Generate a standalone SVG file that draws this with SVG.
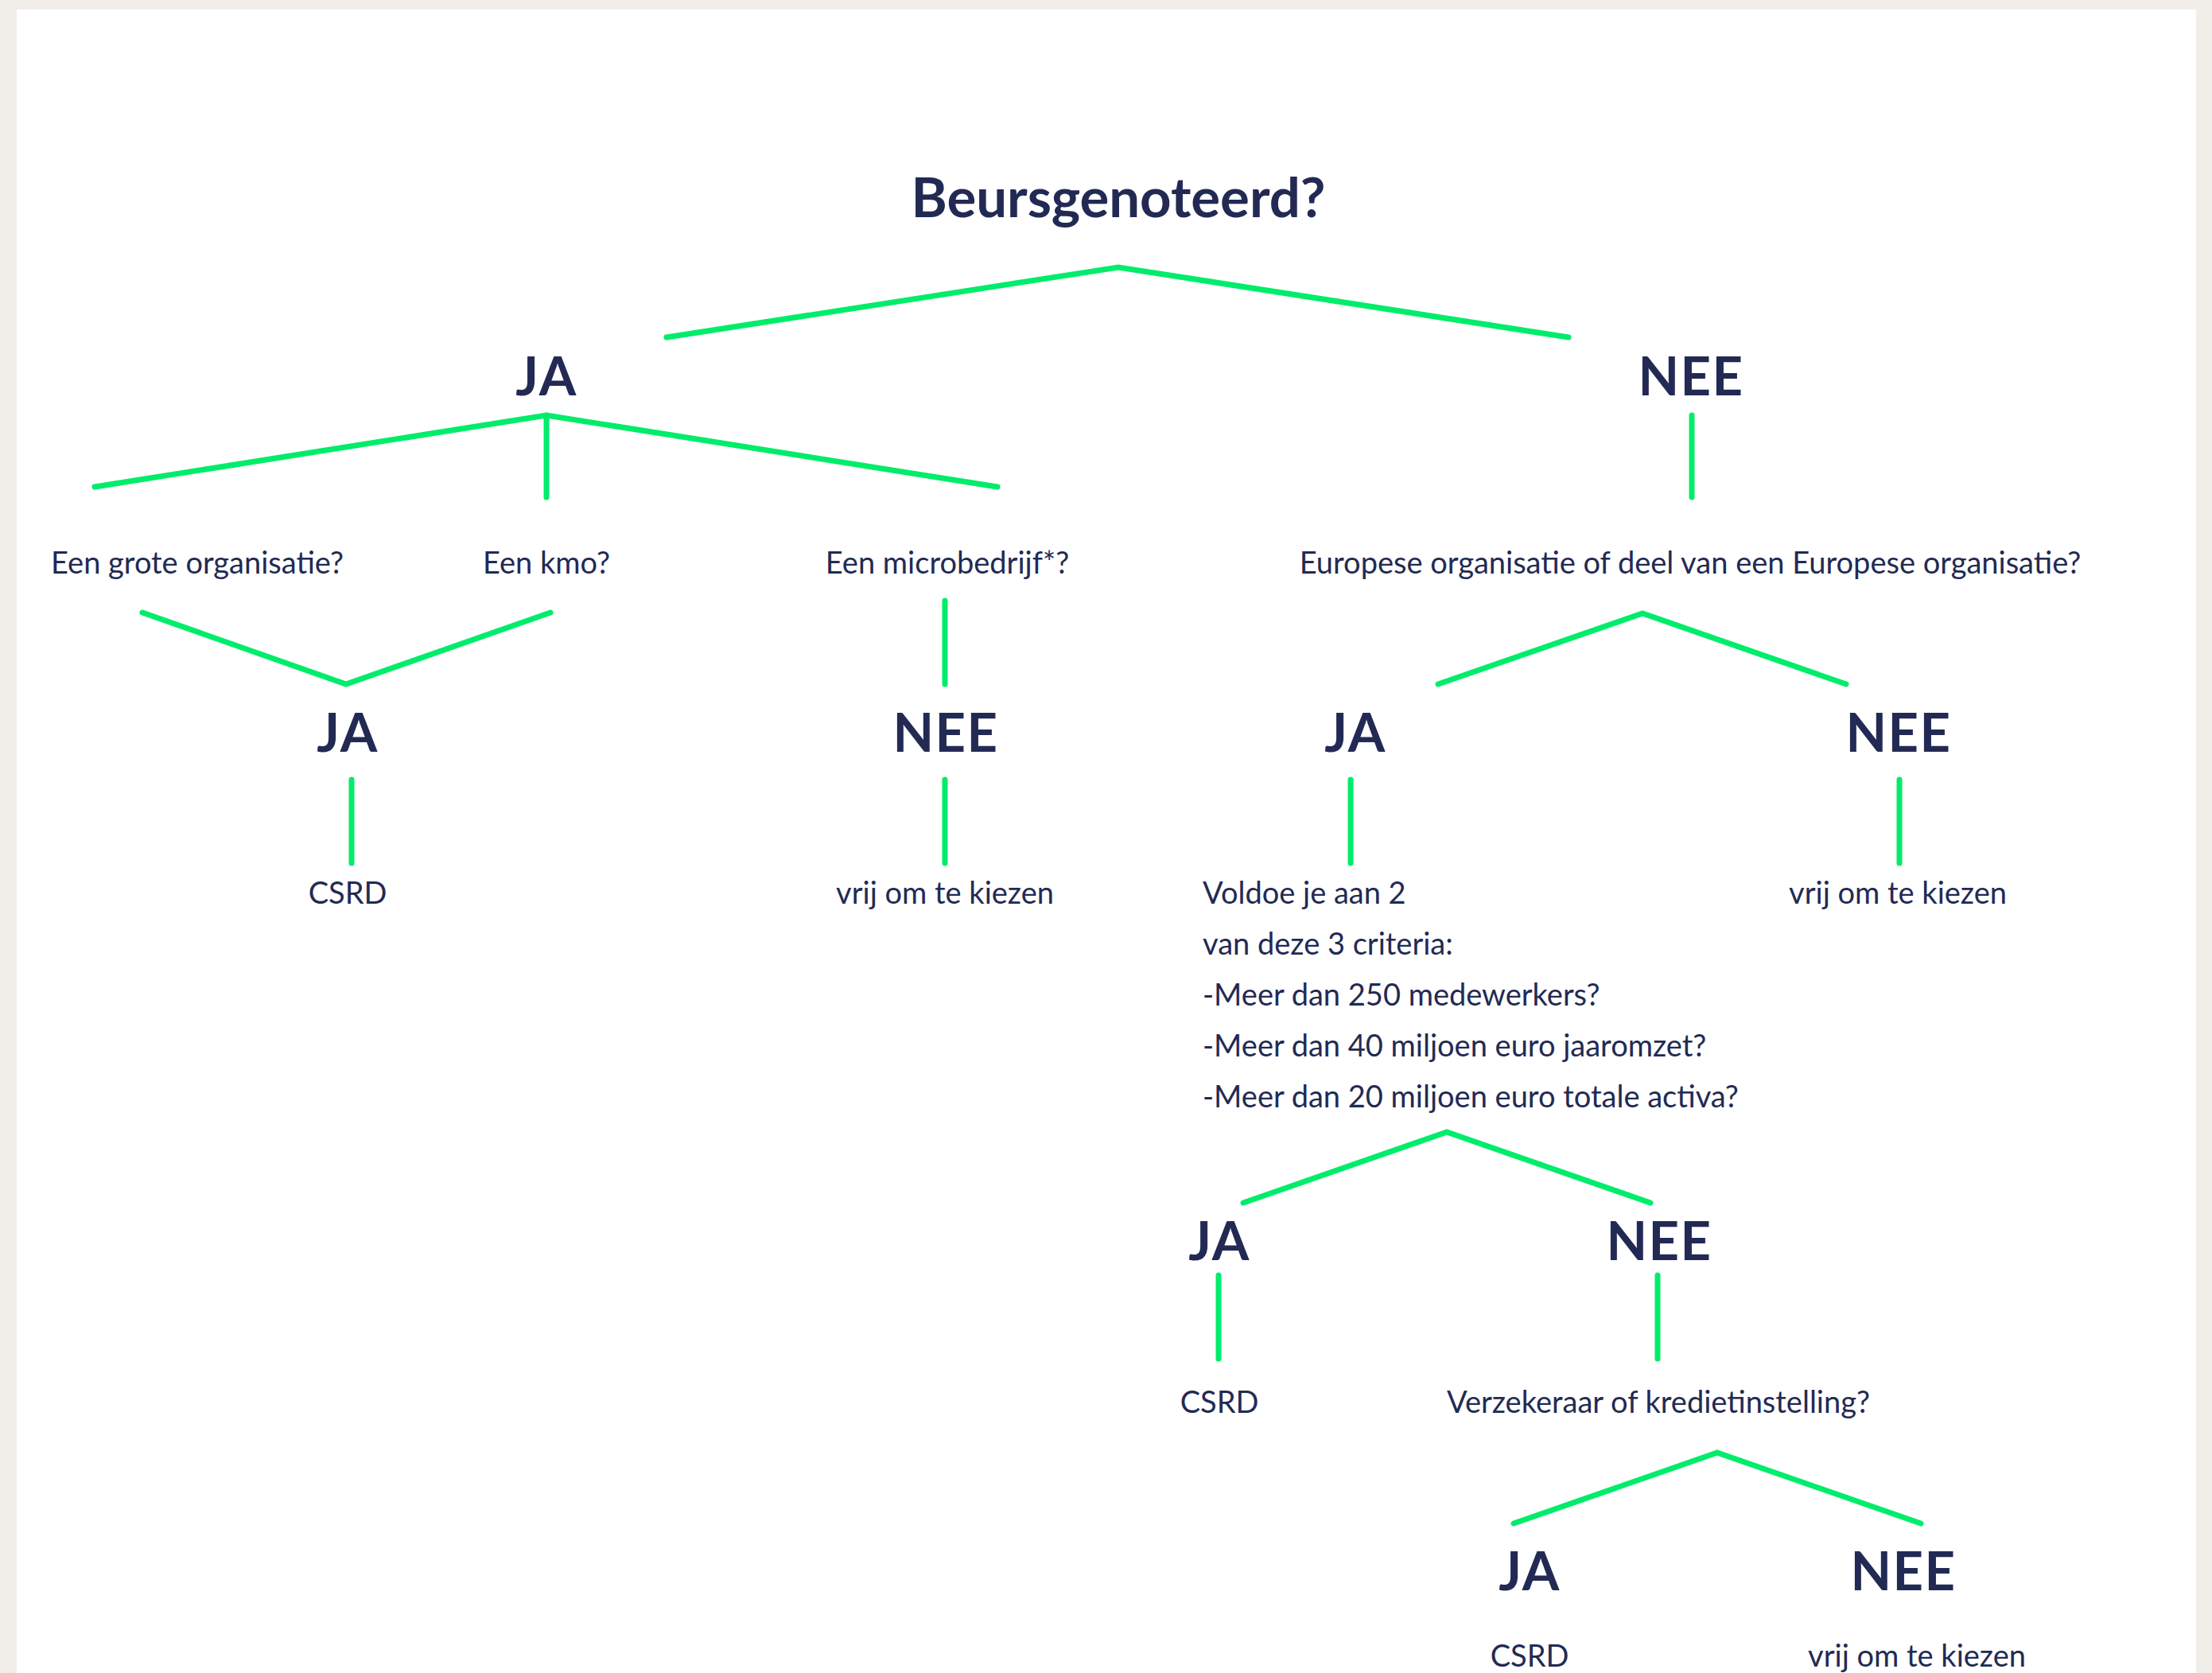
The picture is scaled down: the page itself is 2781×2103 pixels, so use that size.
<svg xmlns="http://www.w3.org/2000/svg" width="2781" height="2103" viewBox="0 0 2781 2103">
<style>
.b{font-family:Lato,"Open Sans","Liberation Sans",sans-serif;font-weight:700;font-size:67px;letter-spacing:1.5px;fill:#222a54;text-anchor:middle}
.t{font-size:68px;letter-spacing:0}
.r{font-family:Lato,"Open Sans","Liberation Sans",sans-serif;font-weight:400;font-size:38px;fill:#222a54;text-anchor:middle}
.l{text-anchor:start}
.c{fill:none;stroke:#00ec6b;stroke-width:7;stroke-linecap:round;stroke-linejoin:miter}
</style>
<rect x="0" y="0" width="2781" height="2103" fill="#f1eee9"/>
<rect x="21" y="12" width="2740" height="2091" fill="#ffffff"/>
<g id="connectors">
<polyline class="c" points="838,424 1406,336 1972,424"/>
<polyline class="c" points="119,612 687,522 1254,612"/>
<line class="c" x1="687" y1="522" x2="687" y2="625"/>
<line class="c" x1="2127" y1="522" x2="2127" y2="625"/>
<polyline class="c" points="179,770 435,860 692,770"/>
<line class="c" x1="1188" y1="755" x2="1188" y2="860"/>
<polyline class="c" points="1808,860 2065,771 2321,860"/>
<line class="c" x1="442" y1="980" x2="442" y2="1085"/>
<line class="c" x1="1188" y1="980" x2="1188" y2="1085"/>
<line class="c" x1="1698" y1="980" x2="1698" y2="1085"/>
<line class="c" x1="2388" y1="980" x2="2388" y2="1085"/>
<polyline class="c" points="1563,1512 1819,1423 2075,1512"/>
<line class="c" x1="1532" y1="1603" x2="1532" y2="1708"/>
<line class="c" x1="2084" y1="1603" x2="2084" y2="1708"/>
<polyline class="c" points="1903,1915 2159,1826 2415,1915"/>
</g>
<g id="n-title"><text class="b t" x="1406" y="273" textLength="521" lengthAdjust="spacingAndGlyphs">Beursgenoteerd?</text></g>
<g id="n-ja1"><text class="b" x="687" y="497">JA</text></g>
<g id="n-nee1"><text class="b" x="2126" y="497">NEE</text></g>
<g id="n-groot"><text class="r" x="248" y="721">Een grote organisatie?</text></g>
<g id="n-kmo"><text class="r" x="687" y="721">Een kmo?</text></g>
<g id="n-micro"><text class="r" x="1191" y="721">Een microbedrijf*?</text></g>
<g id="n-europa"><text class="r" x="2125" y="721">Europese organisatie of deel van een Europese organisatie?</text></g>
<g id="n-ja2a"><text class="b" x="437" y="945">JA</text></g>
<g id="n-nee2a"><text class="b" x="1189" y="945">NEE</text></g>
<g id="n-ja2b"><text class="b" x="1704" y="945">JA</text></g>
<g id="n-nee2b"><text class="b" x="2387" y="945">NEE</text></g>
<g id="n-csrd1"><text class="r" x="437" y="1136">CSRD</text></g>
<g id="n-vrij1"><text class="r" x="1188" y="1136">vrij om te kiezen</text></g>
<g id="n-criteria"><text class="r l" x="1512" y="1136">Voldoe je aan 2</text><text class="r l" x="1512" y="1200">van deze 3 criteria:</text><text class="r l" x="1512" y="1264">-Meer dan 250 medewerkers?</text><text class="r l" x="1512" y="1328">-Meer dan 40 miljoen euro jaaromzet?</text><text class="r l" x="1512" y="1392">-Meer dan 20 miljoen euro totale activa?</text></g>
<g id="n-vrij2"><text class="r" x="2386" y="1136">vrij om te kiezen</text></g>
<g id="n-ja3"><text class="b" x="1533" y="1584">JA</text></g>
<g id="n-nee3"><text class="b" x="2086" y="1584">NEE</text></g>
<g id="n-csrd2"><text class="r" x="1533" y="1776">CSRD</text></g>
<g id="n-verz"><text class="r" x="2085" y="1776">Verzekeraar of kredietinstelling?</text></g>
<g id="n-ja4"><text class="b" x="1923" y="1999">JA</text></g>
<g id="n-nee4"><text class="b" x="2393" y="1999">NEE</text></g>
<g id="n-csrd3"><text class="r" x="1923" y="2095">CSRD</text></g>
<g id="n-vrij3"><text class="r" x="2410" y="2095">vrij om te kiezen</text></g>
</svg>
